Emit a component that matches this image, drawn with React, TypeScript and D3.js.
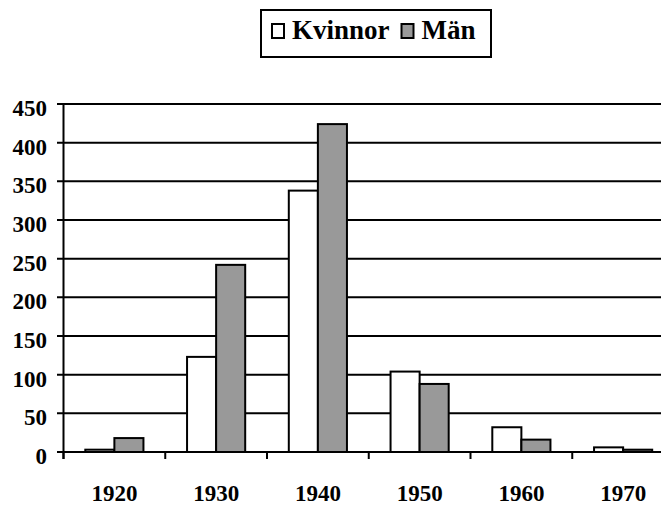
import * as d3 from 'd3';

const years = ['1920', '1930', '1940', '1950', '1960', '1970'];
const kvinnor = [3, 123, 338, 104, 32, 6];
const man = [18, 242, 424, 88, 16, 3];
const yTicks = [0, 50, 100, 150, 200, 250, 300, 350, 400, 450];
const seriesNames = ['Kvinnor', 'Män'];
const seriesFill = ['#ffffff', '#999999'];

const W = 669;
const H = 507;

export default function App() {
  const x = d3.scaleBand<string>().domain(years).range([63.5, 674]).padding(0);
  const y = d3.scaleLinear().domain([0, 450]).range([452, 104]);
  const bw = x.bandwidth() / 3.5;
  const off = (x.bandwidth() * 0.75) / 3.5;
  const series = [kvinnor, man];

  return (
    <svg width={W} height={H} style={{ display: 'block', marginLeft: -8, marginTop: -8 }}>
      <rect x={0} y={0} width={W} height={H} fill="#fff" />
      {/* gridlines */}
      {yTicks.map((t) => (
        <line key={'g' + t} x1={57} x2={W} y1={y(t)} y2={y(t)} stroke="#000" strokeWidth={2} />
      ))}
      {/* bars */}
      {series.map((vals, si) =>
        vals.map((v, i) => (
          <rect
            key={si + '-' + i}
            x={(x(years[i]) as number) + off + si * bw}
            y={y(v)}
            width={bw}
            height={y(0) - y(v)}
            fill={seriesFill[si]}
            stroke="#000"
            strokeWidth={2}
          />
        ))
      )}
      {/* axes */}
      <line x1={63.5} x2={63.5} y1={104} y2={459} stroke="#000" strokeWidth={2} />
      <line x1={57} x2={W} y1={452} y2={452} stroke="#000" strokeWidth={2} />
      {years.map((yr) => (
        <line key={'xt' + yr} x1={x(yr) as number} x2={x(yr) as number} y1={452} y2={459} stroke="#000" strokeWidth={2} />
      ))}
      {yTicks.map((t) => (
        <text key={'yl' + t} x={47} y={y(t) + 12} textAnchor="end" style={{ fontFamily: 'Times New Roman', fontWeight: 700, fontSize: 23 }}>
          {String(t)}
        </text>
      ))}
      {years.map((yr) => (
        <text
          key={'xl' + yr}
          x={(x(yr) as number) + x.bandwidth() / 2}
          y={501}
          textAnchor="middle"
          style={{ fontFamily: 'Times New Roman', fontWeight: 700, fontSize: 23 }}
        >
          {yr}
        </text>
      ))}
      {/* legend */}
      <rect x={261} y={10} width={230} height={47} fill="#fff" stroke="#000" strokeWidth={2} />
      {seriesNames.map((name, si) => {
        const sx = si === 0 ? 272 : 401.5;
        return (
          <g key={'lg' + name}>
            <rect x={sx} y={24} width={12} height={14} fill={seriesFill[si]} stroke="#000" strokeWidth={2} />
            <text x={sx + 20} y={39} style={{ fontFamily: 'Times New Roman', fontWeight: 700, fontSize: 27 }}>
              {name}
            </text>
          </g>
        );
      })}
    </svg>
  );
}
